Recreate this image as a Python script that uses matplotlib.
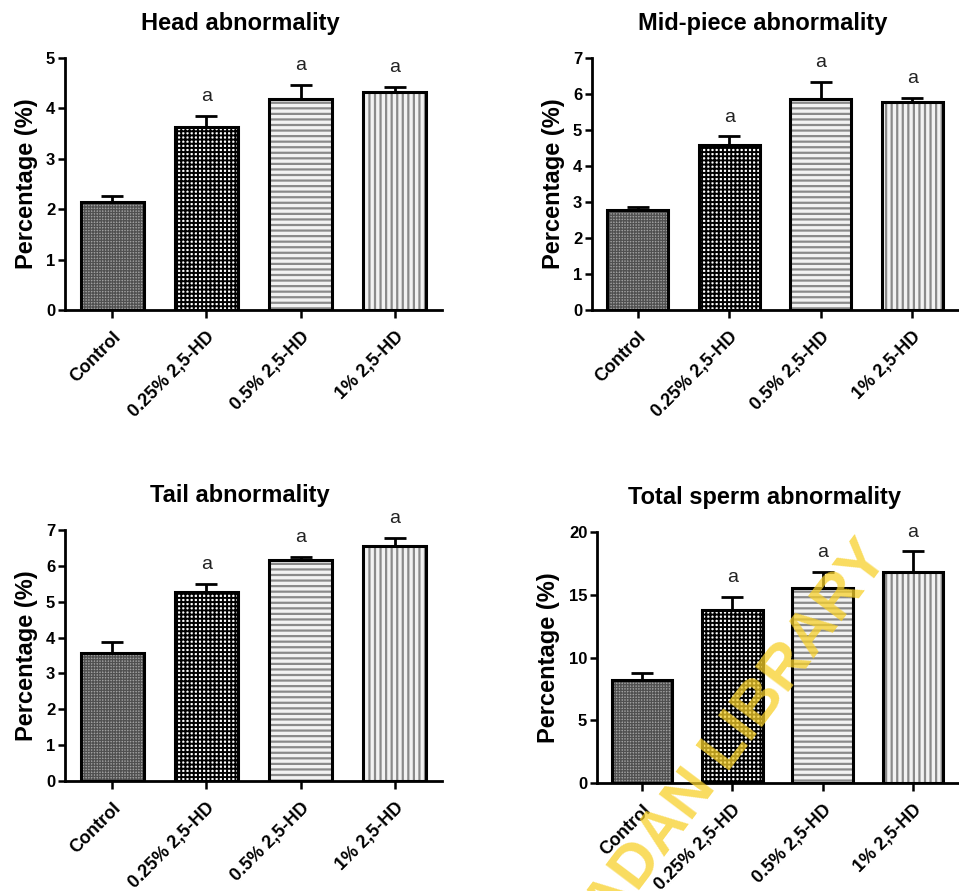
import matplotlib
matplotlib.use("Agg")
import matplotlib.pyplot as plt

plt.rcParams['font.family'] = ['Liberation Sans', 'DejaVu Sans']

groups = ['Control', '0.25% 2,5-HD', '0.5% 2,5-HD', '1% 2,5-HD']

head_mean = [2.15, 3.64, 4.19, 4.33]
head_err = [0.11, 0.21, 0.27, 0.10]

mid_mean = [2.78, 4.57, 5.87, 5.77]
mid_err = [0.09, 0.25, 0.46, 0.13]

tail_mean = [3.58, 5.28, 6.15, 6.55]
tail_err = [0.30, 0.22, 0.09, 0.24]

total_mean = [8.2, 13.75, 15.55, 16.85]
total_err = [0.6, 1.05, 1.25, 1.6]

letters = ['', 'a', 'a', 'a']

# fill, hatch colour, hatch pattern, hatch width
styles = [
    ('#a0a0a0', '#505050', '++++++', 0.9),
    ('#ffffff', '#000000', '++++', 1.4),
    ('#f2f2f2', '#8a8a8a', '---', 1.6),
    ('#f2f2f2', '#8a8a8a', '|||', 1.6),
]

panels = [
    ('Head abnormality', head_mean, head_err, 5, 1, [65, 442, 58, 310]),
    ('Mid-piece abnormality', mid_mean, mid_err, 7, 1, [592, 958, 58, 310]),
    ('Tail abnormality', tail_mean, tail_err, 7, 1, [65, 442, 530, 781]),
    ('Total sperm abnormality', total_mean, total_err, 20, 5, [597, 958, 532, 783]),
]

W, H = 959, 891
fig = plt.figure(figsize=(W / 100, H / 100), dpi=100)

for title, mean, err, ymax, step, (l, r, t, b) in panels:
    ax = fig.add_axes([l / W, 1 - b / H, (r - l) / W, (b - t) / H])
    x = range(len(groups))
    for i in x:
        fc, hc, hatch, hw = styles[i]
        with plt.rc_context({'hatch.linewidth': hw}):
            ax.bar(i, mean[i], width=0.67, color=fc, edgecolor=hc, hatch=hatch,
                   linewidth=0, zorder=2)
        ax.bar(i, mean[i], width=0.67, fill=False, edgecolor='black',
               linewidth=2.2, zorder=3)
    ax.errorbar(list(x), mean, yerr=[[0] * 4, err], fmt='none', ecolor='black',
                elinewidth=2, capsize=8, capthick=2, zorder=1)
    for i in x:
        if letters[i]:
            ax.annotate(letters[i], (i, mean[i] + err[i]), xytext=(0, 14),
                        textcoords='offset points', ha='center', va='center',
                        fontsize=14, color='#222222')
    ax.set_xlim(-0.5, 3.5)
    ax.set_ylim(0, ymax)
    ax.set_yticks(range(0, ymax + 1, step))
    ax.set_xticks(list(x))
    ax.set_xticklabels(groups, rotation=45, ha='right', rotation_mode='anchor',
                       fontsize=13, fontweight='bold')
    for lab in ax.get_yticklabels():
        lab.set_fontweight('bold')
        lab.set_fontsize(12)
    ax.tick_params(width=1.8, length=5, pad=2, color='black')
    ax.tick_params(axis='x', length=6, pad=7)
    ax.spines['top'].set_visible(False)
    ax.spines['right'].set_visible(False)
    ax.spines['left'].set_linewidth(2)
    ax.spines['bottom'].set_linewidth(2)
    ax.set_ylabel('Percentage (%)', fontsize=17, fontweight='bold', labelpad=6)
    ax.set_title(title, fontsize=17, fontweight='bold', x=0.465, pad=20)

fig.text(890 / W, 1 - 558 / H, 'IBADAN LIBRARY', rotation=53, ha='right',
         va='baseline', rotation_mode='anchor', fontsize=44, fontweight='bold',
         color='#f7d02a', alpha=0.75)

fig.savefig('out.png', dpi=100)
